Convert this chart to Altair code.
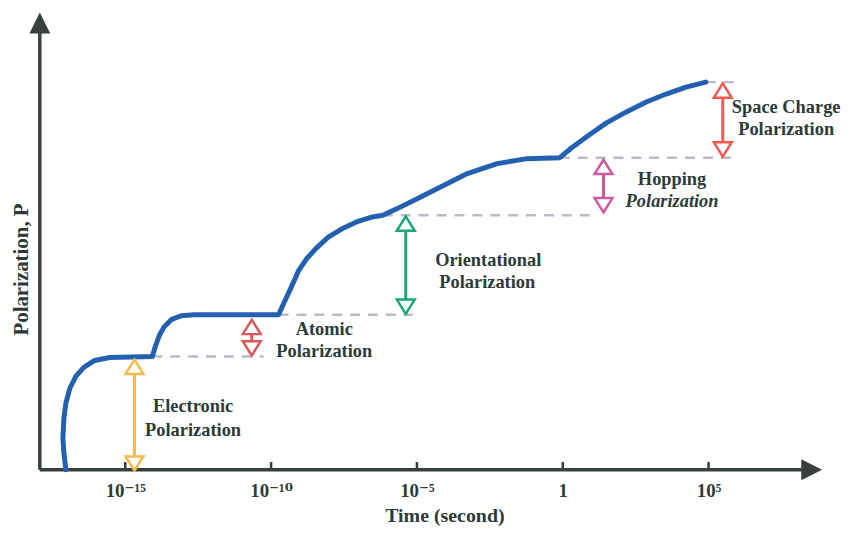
import altair as alt
import pandas as pd

# ---------------- data (x = log10 of time in seconds, P = polarization, arbitrary units 0-100)
curve_x = [-17.036, -17.104, -17.138, -17.104, -17.036, -16.899, -16.695, -16.422, -16.048, -15.537,
           -14.072, -13.969, -13.833, -13.663, -13.424, -13.083, -12.641, -9.744, -9.574, -9.336,
           -9.063, -8.790, -8.450, -8.041, -7.530, -7.019, -6.576, -6.167, -5.656, -4.974,
           -4.293, -3.271, -2.249, -1.227, -0.102, 0.307, 0.818, 1.499, 2.181, 2.862,
           3.543, 4.225, 4.906]
curve_p = [0.0, 3.70, 6.96, 11.30, 14.57, 17.83, 20.43, 22.39, 23.91, 24.57,
           24.78, 26.96, 29.35, 31.30, 32.83, 33.70, 33.91, 33.91, 36.30, 39.57,
           43.48, 46.09, 48.48, 50.87, 52.83, 54.35, 55.22, 55.65, 57.17, 59.35,
           61.52, 64.78, 66.96, 68.04, 68.26, 70.43, 72.83, 75.87, 78.26, 80.43,
           82.17, 83.70, 84.78]

dash_x1 = [-14.072, -9.744, -6.167, -0.102, 4.906]
dash_x2 = [-10.256, -5.145, 0.988, 5.860, 5.860]
dash_p = [24.78, 33.91, 55.65, 68.26, 84.78]

arrow_names = ["Electronic", "Atomic", "Orientational", "Hopping", "Space Charge"]
arrow_x = [-14.685, -10.664, -5.383, 1.397, 5.486]
arrow_lo = [-0.2, 25.0, 34.1, 56.3, 68.5]
arrow_hi = [24.1, 32.8, 55.4, 67.8, 84.5]
arrow_colors = ["#f6b94b", "#d65a5c", "#19a67b", "#cc5a9c", "#ec5a50"]

label_text = ["Electronic", "Polarization", "Atomic", "Polarization", "Orientational",
              "Polarization", "Hopping", "Polarization", "Space Charge", "Polarization"]
label_x = [-12.675, -12.675, -8.177, -8.177, -2.555, -2.589, 3.748, 3.748, 7.66, 7.66]
label_p = [13.91, 8.70, 30.87, 25.87, 45.87, 41.09, 63.48, 58.70, 79.35, 74.57]
label_style = ["normal", "normal", "normal", "normal", "normal",
               "normal", "normal", "italic", "normal", "normal"]

tick_values = [-15, -10, -5, 0, 5]
tick_labels = ["10\u207b\u00b9\u2075", "10\u207b\u00b9\u2070", "10\u207b\u2075", "1", "10\u2075"]

X_MIN, X_MAX = -17.93, 8.893
P_MIN, P_MAX = 0, 100

# ---------------- styling
FONT = "Liberation Serif, Times New Roman, Times, DejaVu Serif, serif"
TXT = "#2c3b38"
AX = "#38403e"
W, H = 787, 460

curve_df = pd.DataFrame({"x": curve_x, "p": curve_p, "order": list(range(len(curve_x)))})
dash_df = pd.DataFrame({"x": dash_x1, "x2": dash_x2, "p": dash_p})
arrow_df = pd.DataFrame({"name": arrow_names, "x": arrow_x, "lo": arrow_lo, "hi": arrow_hi})
label_df = pd.DataFrame({"text": label_text, "x": label_x, "p": label_p, "style": label_style})
tick_df = pd.DataFrame({"x": tick_values, "p0": [0] * len(tick_values), "p1": [1.7] * len(tick_values)})

xs = alt.Scale(domain=[X_MIN, X_MAX], nice=False, zero=False)
ys = alt.Scale(domain=[P_MIN, P_MAX], nice=False, zero=False)
cs = alt.Scale(domain=arrow_names, range=arrow_colors)

label_expr = ""
for v, t in zip(tick_values, tick_labels):
    label_expr += f"datum.value == {v} ? '{t}' : "
label_expr += "''"

x_axis = alt.Axis(values=tick_values, labelExpr=label_expr, domain=False, ticks=False, grid=False,
                  labelFont=FONT, labelFontSize=19, labelFontWeight="bold", labelColor=TXT,
                  labelPadding=12, labelOverlap=False, labelFlush=False,
                  title="Time (second)", titleFont=FONT, titleFontSize=20, titleFontWeight="bold",
                  titleColor=TXT, titleX=407, titleY=46, titleAlign="center", titleBaseline="middle")
y_axis = alt.Axis(domain=False, ticks=False, labels=False, grid=False,
                  title="Polarization, P", titleFont=FONT, titleFontSize=21, titleFontWeight="bold",
                  titleColor=TXT, titleX=-18, titleY=258, titleAngle=270, titleAlign="center",
                  titleBaseline="middle")

# axes lines with arrowheads
axis_df = pd.DataFrame({"x": [X_MIN], "y": [P_MIN]})
y_axis_line = alt.Chart(axis_df).mark_rule(color=AX, strokeWidth=3.5).encode(
    x=alt.X("x:Q", scale=xs, axis=x_axis),
    y=alt.Y("y:Q", scale=ys, axis=y_axis),
    y2=alt.datum(P_MAX - 4))
x_axis_line = alt.Chart(axis_df).mark_rule(color=AX, strokeWidth=3.5).encode(
    x=alt.X("x:Q", scale=xs), x2=alt.datum(X_MAX - 0.7), y=alt.Y("y:Q", scale=ys))
y_head = alt.Chart(axis_df).mark_point(shape="M0,0L-1,2L1,2Z", size=441, filled=True,
                                       color=AX, opacity=1).encode(
    x=alt.X("x:Q", scale=xs), y=alt.datum(P_MAX))
x_head = alt.Chart(axis_df).mark_point(shape="M0,0L-2,-1L-2,1Z", size=441, filled=True,
                                       color=AX, opacity=1).encode(
    x=alt.datum(X_MAX), y=alt.Y("y:Q", scale=ys))
ticks = alt.Chart(tick_df).mark_rule(color=AX, strokeWidth=2.5).encode(
    x=alt.X("x:Q", scale=xs), y=alt.Y("p0:Q", scale=ys), y2="p1:Q")

dashes = alt.Chart(dash_df).mark_rule(color="#b7bbca", strokeWidth=2.5, strokeDash=[10, 8]).encode(
    x=alt.X("x:Q", scale=xs), x2="x2:Q", y=alt.Y("p:Q", scale=ys))

curve = alt.Chart(curve_df).mark_line(color="#2360b0", strokeWidth=5, strokeCap="round",
                                      strokeJoin="round").encode(
    x=alt.X("x:Q", scale=xs), y=alt.Y("p:Q", scale=ys), order="order:Q")

shafts = alt.Chart(arrow_df).mark_rule(strokeWidth=3).encode(
    x=alt.X("x:Q", scale=xs), y=alt.Y("lo:Q", scale=ys), y2="hi:Q",
    color=alt.Color("name:N", scale=cs, legend=None))
heads_up = alt.Chart(arrow_df).mark_point(shape="M0,0L-1,1.6L1,1.6Z", size=324, filled=True,
                                          fill="white", strokeWidth=2.5, opacity=1, fillOpacity=1).encode(
    x=alt.X("x:Q", scale=xs), y=alt.Y("hi:Q", scale=ys),
    stroke=alt.Stroke("name:N", scale=cs, legend=None))
heads_dn = alt.Chart(arrow_df).mark_point(shape="M0,0L-1,-1.6L1,-1.6Z", size=324, filled=True,
                                          fill="white", strokeWidth=2.5, opacity=1, fillOpacity=1).encode(
    x=alt.X("x:Q", scale=xs), y=alt.Y("lo:Q", scale=ys),
    stroke=alt.Stroke("name:N", scale=cs, legend=None))

labels_n = alt.Chart(label_df).transform_filter(alt.datum.style == "normal").mark_text(
    font=FONT, fontSize=18.5, fontWeight="bold", color=TXT, align="center", baseline="middle").encode(
    x=alt.X("x:Q", scale=xs), y=alt.Y("p:Q", scale=ys), text="text:N")
labels_i = alt.Chart(label_df).transform_filter(alt.datum.style == "italic").mark_text(
    font=FONT, fontSize=18.5, fontWeight="bold", fontStyle="italic", color=TXT, align="center",
    baseline="middle").encode(
    x=alt.X("x:Q", scale=xs), y=alt.Y("p:Q", scale=ys), text="text:N")

chart = alt.layer(
    y_axis_line, x_axis_line, ticks, dashes, curve, shafts, heads_up, heads_dn,
    y_head, x_head, labels_n, labels_i
).properties(
    width=W, height=H,
    padding={"left": 32, "top": 3, "right": 21, "bottom": 56},
    autosize=alt.AutoSizeParams(type="none"),
    background="white"
).configure_view(stroke=None)

chart.save("out.html", embed_options={"renderer": "svg", "actions": False})
